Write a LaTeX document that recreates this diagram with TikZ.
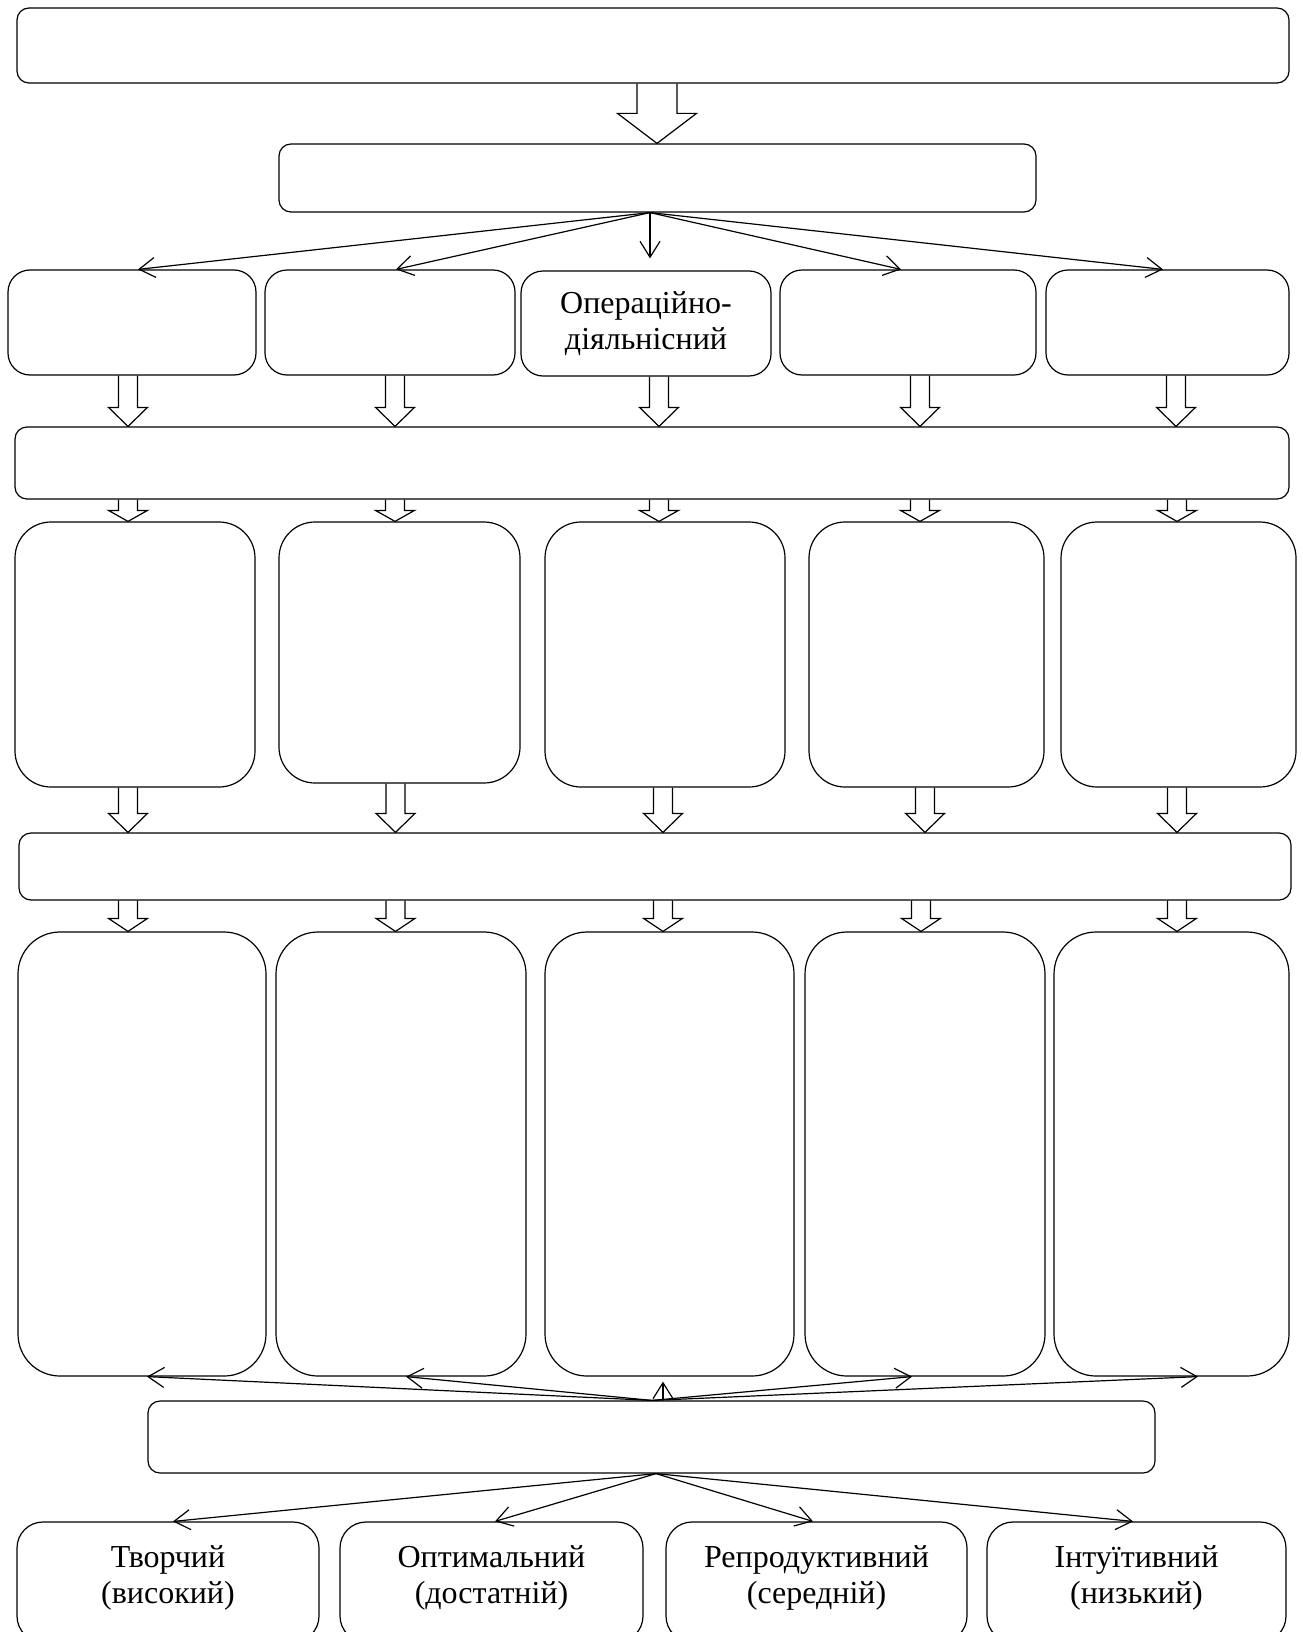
\documentclass[tikz,border=0pt]{standalone}
\usepackage{fontspec}
\setmainfont{Liberation Serif}
\usetikzlibrary{arrows.meta,calc}
\newcommand\barw[6]{%
  \draw[blk] let \p1=(#2.south), \p2=(#3.north) in
    ({(#1-#5)*0.5pt},\y1) -- ({(#1-#5)*0.5pt},{\y2+#4*0.5pt}) -- ({(#1-#6)*0.5pt},{\y2+#4*0.5pt}) -- ({#1*0.5pt},\y2) -- ({(#1+#6)*0.5pt},{\y2+#4*0.5pt}) -- ({(#1+#5)*0.5pt},{\y2+#4*0.5pt}) -- ({(#1+#5)*0.5pt},\y1);}
\begin{document}
\begin{tikzpicture}[x=0.5pt,y=-0.5pt,
  box/.style={draw, line width=0.6pt, inner sep=0pt, align=center, font=\fontsize{16}{18}\selectfont},
  lbl/.style={inner sep=0pt, align=center, font=\fontsize{16}{18}\selectfont},
  blk/.style={line width=0.6pt, line join=miter},
  fan/.style={line width=0.6pt, -{Straight Barb[length=8pt,width=10pt]}}]
\useasboundingbox (0,0) rectangle (1302,1632);
\fill[white] (0,0) rectangle (1302,1632);
% top
\node[box, rounded corners=6pt, minimum width=636pt, minimum height=37.5pt] (top) at (653,45.5) {};
\node[box, rounded corners=6pt, minimum width=378.5pt, minimum height=34pt] (mid) at (657.5,178) {};
% row 1
\begin{scope}[every node/.append style={rounded corners=11pt, minimum height=52.5pt}]
\node[box, minimum width=124pt] (A1) at (132,322.5) {};
\node[box, minimum width=125pt] (B1) at (390,322.5) {};
\node[box, minimum width=125pt] (C1) at (646,323.5) {Операційно-\\діяльнісний};
\node[box, minimum width=128pt] (D1) at (908,322.5) {};
\node[box, minimum width=121.5pt] (E1) at (1167.5,322.5) {};
\end{scope}
\node[box, rounded corners=6pt, minimum width=637pt, minimum height=36pt] (bar1) at (652,463) {};
% row 2
\begin{scope}[every node/.append style={rounded corners=18pt}]
\node[box, minimum width=120pt, minimum height=132.5pt] (A2) at (135,654.5) {};
\node[box, minimum width=120.5pt, minimum height=130.5pt] (B2) at (399.5,652.5) {};
\node[box, minimum width=120pt, minimum height=132.5pt] (C2) at (665,654.5) {};
\node[box, minimum width=117.5pt, minimum height=132.5pt] (D2) at (926.5,654.5) {};
\node[box, minimum width=117.5pt, minimum height=132.5pt] (E2) at (1178.5,654.5) {};
\end{scope}
\node[box, rounded corners=6pt, minimum width=636pt, minimum height=33.5pt] (bar2) at (655,866.5) {};
% row 3
\begin{scope}[every node/.append style={rounded corners=21pt, minimum height=222pt}]
\node[box, minimum width=124pt] (A3) at (142,1154) {};
\node[box, minimum width=125pt] (B3) at (401,1154) {};
\node[box, minimum width=124.5pt] (C3) at (669.5,1154) {};
\node[box, minimum width=120pt] (D3) at (925,1154) {};
\node[box, minimum width=117.5pt] (E3) at (1171.5,1154) {};
\end{scope}
\node[box, rounded corners=6pt, minimum width=503.5pt, minimum height=36pt] (bar3) at (651.5,1437) {};
% row 4
\begin{scope}[every node/.append style={rounded corners=13pt, minimum height=60pt}]
\node[box, minimum width=151pt] (A4) at (168,1582) {};
\node[box, minimum width=151.5pt] (B4) at (491.5,1582) {};
\node[box, minimum width=150.5pt] (C4) at (816.5,1582) {};
\node[box, minimum width=149.5pt] (D4) at (1136.5,1582) {};
\end{scope}
\node[lbl] (tA4) at (168,1578) {Творчий\\(високий)};
\node[lbl] (tB4) at (491.5,1578) {Оптимальний\\(достатній)};
\node[lbl] (tC4) at (816.5,1578) {Репродуктивний\\(середній)};
\node[lbl] (tD4) at (1136.5,1578) {Інтуїтивний\\(низький)};
% block arrows
\barw{657}{top}{mid}{30}{20}{39.5}
\barw{128}{A1}{bar1}{19}{9.5}{19.5}
\barw{395}{B1}{bar1}{19}{9.5}{19.5}
\barw{659}{C1}{bar1}{19}{9.5}{19.5}
\barw{920}{D1}{bar1}{19}{9.5}{19.5}
\barw{1176}{E1}{bar1}{19}{9.5}{19.5}
\barw{128}{bar1}{A2}{11}{9.5}{19.5}
\barw{395}{bar1}{B2}{11}{9.5}{19.5}
\barw{659}{bar1}{C2}{11}{9.5}{19.5}
\barw{920}{bar1}{D2}{11}{9.5}{19.5}
\barw{1177}{bar1}{E2}{11}{9.5}{19.5}
\barw{128}{A2}{bar2}{19}{9.5}{19.5}
\barw{395.5}{B2}{bar2}{19}{9.5}{19.5}
\barw{663}{C2}{bar2}{19}{9.5}{19.5}
\barw{925}{D2}{bar2}{19}{9.5}{19.5}
\barw{1177}{E2}{bar2}{19}{9.5}{19.5}
\barw{128}{bar2}{A3}{13}{9.5}{19.5}
\barw{395.5}{bar2}{B3}{13}{9.5}{19.5}
\barw{663}{bar2}{C3}{13}{9.5}{19.5}
\barw{921}{bar2}{D3}{13}{9.5}{19.5}
\barw{1177}{bar2}{E3}{13}{9.5}{19.5}
% fans
\coordinate (f1) at ([xshift=-3.75pt]mid.south);
\draw[fan] (f1) -- ([xshift=3pt]A1.north);
\draw[fan] (f1) -- ([xshift=3pt]B1.north);
\draw[fan] (f1) -- ([xshift=2pt,yshift=6pt]C1.north);
\draw[fan] (f1) -- ([xshift=-3.5pt]D1.north);
\draw[fan] (f1) -- ([xshift=-2.25pt]E1.north);
\coordinate (f2) at ([xshift=0.25pt]bar3.north);
\draw[fan] (f2) -- ([xshift=2.5pt]A3.south);
\draw[fan] (f2) -- ([xshift=2.5pt]B3.south);
\draw[fan] ([xshift=5.5pt]f2) -- ([xshift=-3.25pt,yshift=-2.5pt]C3.south);
\draw[fan] (f2) -- ([xshift=-6.5pt]D3.south);
\draw[fan] (f2) -- ([xshift=13.25pt]E3.south);
\coordinate (f3) at ([xshift=2.25pt]bar3.south);
\draw[fan] (f3) -- ([xshift=2.5pt]A4.north);
\draw[fan] (f3) -- ([xshift=1.75pt]B4.north);
\draw[fan] (f3) -- ([xshift=-1.75pt]C4.north);
\draw[fan] (f3) -- ([xshift=-1.75pt]D4.north);
\end{tikzpicture}
\end{document}
